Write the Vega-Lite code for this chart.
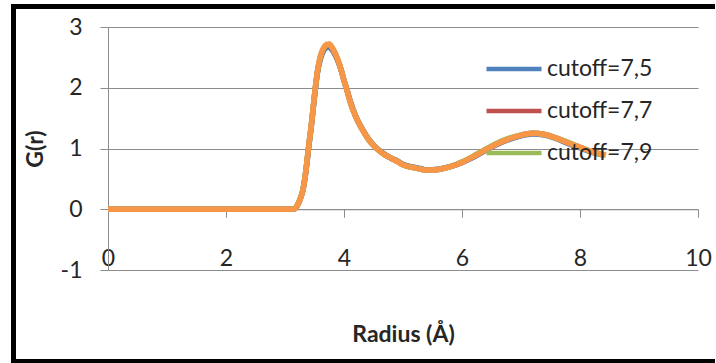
{
  "$schema": "https://vega.github.io/schema/vega-lite/v6.json",
  "width": 590,
  "height": 243,
  "autosize": "none",
  "padding": {"left": 108, "top": 27, "right": 18, "bottom": 93},
  "background": "white",
  "config": {"view": {"stroke": null}},
  "data": {"values": [
    {"r": 0, "g": 0, "s": "cutoff=7,5"}, {"r": 1, "g": 0, "s": "cutoff=7,5"}, {"r": 2, "g": 0, "s": "cutoff=7,5"}, {"r": 3, "g": 0, "s": "cutoff=7,5"}, {"r": 3.15, "g": 0, "s": "cutoff=7,5"},
    {"r": 3.2, "g": 0.05, "s": "cutoff=7,5"}, {"r": 3.25, "g": 0.15, "s": "cutoff=7,5"}, {"r": 3.3, "g": 0.3, "s": "cutoff=7,5"}, {"r": 3.35, "g": 0.59, "s": "cutoff=7,5"}, {"r": 3.4, "g": 1.0, "s": "cutoff=7,5"},
    {"r": 3.45, "g": 1.4, "s": "cutoff=7,5"}, {"r": 3.5, "g": 1.85, "s": "cutoff=7,5"}, {"r": 3.55, "g": 2.24, "s": "cutoff=7,5"}, {"r": 3.6, "g": 2.47, "s": "cutoff=7,5"}, {"r": 3.65, "g": 2.6, "s": "cutoff=7,5"},
    {"r": 3.7, "g": 2.66, "s": "cutoff=7,5"}, {"r": 3.75, "g": 2.67, "s": "cutoff=7,5"}, {"r": 3.8, "g": 2.62, "s": "cutoff=7,5"}, {"r": 3.85, "g": 2.54, "s": "cutoff=7,5"}, {"r": 3.9, "g": 2.43, "s": "cutoff=7,5"},
    {"r": 3.95, "g": 2.29, "s": "cutoff=7,5"}, {"r": 4.0, "g": 2.12, "s": "cutoff=7,5"}, {"r": 4.05, "g": 1.97, "s": "cutoff=7,5"}, {"r": 4.1, "g": 1.8, "s": "cutoff=7,5"}, {"r": 4.2, "g": 1.53, "s": "cutoff=7,5"},
    {"r": 4.3, "g": 1.34, "s": "cutoff=7,5"}, {"r": 4.4, "g": 1.18, "s": "cutoff=7,5"}, {"r": 4.5, "g": 1.06, "s": "cutoff=7,5"}, {"r": 4.6, "g": 0.97, "s": "cutoff=7,5"}, {"r": 4.7, "g": 0.9, "s": "cutoff=7,5"},
    {"r": 4.8, "g": 0.84, "s": "cutoff=7,5"}, {"r": 4.9, "g": 0.8, "s": "cutoff=7,5"}, {"r": 5.0, "g": 0.74, "s": "cutoff=7,5"}, {"r": 5.2, "g": 0.69, "s": "cutoff=7,5"}, {"r": 5.3, "g": 0.67, "s": "cutoff=7,5"},
    {"r": 5.4, "g": 0.65, "s": "cutoff=7,5"}, {"r": 5.5, "g": 0.65, "s": "cutoff=7,5"}, {"r": 5.6, "g": 0.66, "s": "cutoff=7,5"}, {"r": 5.8, "g": 0.7, "s": "cutoff=7,5"}, {"r": 6.0, "g": 0.77, "s": "cutoff=7,5"},
    {"r": 6.2, "g": 0.86, "s": "cutoff=7,5"}, {"r": 6.4, "g": 0.97, "s": "cutoff=7,5"}, {"r": 6.6, "g": 1.07, "s": "cutoff=7,5"}, {"r": 6.8, "g": 1.15, "s": "cutoff=7,5"}, {"r": 7.0, "g": 1.21, "s": "cutoff=7,5"},
    {"r": 7.2, "g": 1.24, "s": "cutoff=7,5"}, {"r": 7.4, "g": 1.22, "s": "cutoff=7,5"}, {"r": 7.6, "g": 1.16, "s": "cutoff=7,5"}, {"r": 7.8, "g": 1.08, "s": "cutoff=7,5"}, {"r": 8.0, "g": 1.01, "s": "cutoff=7,5"},
    {"r": 8.2, "g": 0.94, "s": "cutoff=7,5"}, {"r": 8.4, "g": 0.89, "s": "cutoff=7,5"},

    {"r": 0, "g": 0, "s": "cutoff=7,7"}, {"r": 1, "g": 0, "s": "cutoff=7,7"}, {"r": 2, "g": 0, "s": "cutoff=7,7"}, {"r": 3, "g": 0, "s": "cutoff=7,7"}, {"r": 3.15, "g": 0, "s": "cutoff=7,7"},
    {"r": 3.2, "g": 0.05, "s": "cutoff=7,7"}, {"r": 3.25, "g": 0.15, "s": "cutoff=7,7"}, {"r": 3.3, "g": 0.3, "s": "cutoff=7,7"}, {"r": 3.35, "g": 0.6, "s": "cutoff=7,7"}, {"r": 3.4, "g": 1.02, "s": "cutoff=7,7"},
    {"r": 3.45, "g": 1.41, "s": "cutoff=7,7"}, {"r": 3.5, "g": 1.87, "s": "cutoff=7,7"}, {"r": 3.55, "g": 2.26, "s": "cutoff=7,7"}, {"r": 3.6, "g": 2.5, "s": "cutoff=7,7"}, {"r": 3.65, "g": 2.63, "s": "cutoff=7,7"},
    {"r": 3.7, "g": 2.69, "s": "cutoff=7,7"}, {"r": 3.75, "g": 2.7, "s": "cutoff=7,7"}, {"r": 3.8, "g": 2.65, "s": "cutoff=7,7"}, {"r": 3.85, "g": 2.56, "s": "cutoff=7,7"}, {"r": 3.9, "g": 2.44, "s": "cutoff=7,7"},
    {"r": 3.95, "g": 2.3, "s": "cutoff=7,7"}, {"r": 4.0, "g": 2.12, "s": "cutoff=7,7"}, {"r": 4.05, "g": 1.96, "s": "cutoff=7,7"}, {"r": 4.1, "g": 1.79, "s": "cutoff=7,7"}, {"r": 4.2, "g": 1.52, "s": "cutoff=7,7"},
    {"r": 4.3, "g": 1.33, "s": "cutoff=7,7"}, {"r": 4.4, "g": 1.17, "s": "cutoff=7,7"}, {"r": 4.5, "g": 1.05, "s": "cutoff=7,7"}, {"r": 4.6, "g": 0.96, "s": "cutoff=7,7"}, {"r": 4.7, "g": 0.89, "s": "cutoff=7,7"},
    {"r": 4.8, "g": 0.84, "s": "cutoff=7,7"}, {"r": 4.9, "g": 0.79, "s": "cutoff=7,7"}, {"r": 5.0, "g": 0.73, "s": "cutoff=7,7"}, {"r": 5.2, "g": 0.68, "s": "cutoff=7,7"}, {"r": 5.3, "g": 0.66, "s": "cutoff=7,7"},
    {"r": 5.4, "g": 0.645, "s": "cutoff=7,7"}, {"r": 5.5, "g": 0.645, "s": "cutoff=7,7"}, {"r": 5.6, "g": 0.655, "s": "cutoff=7,7"}, {"r": 5.8, "g": 0.7, "s": "cutoff=7,7"}, {"r": 6.0, "g": 0.77, "s": "cutoff=7,7"},
    {"r": 6.2, "g": 0.87, "s": "cutoff=7,7"}, {"r": 6.4, "g": 0.98, "s": "cutoff=7,7"}, {"r": 6.6, "g": 1.08, "s": "cutoff=7,7"}, {"r": 6.8, "g": 1.16, "s": "cutoff=7,7"}, {"r": 7.0, "g": 1.22, "s": "cutoff=7,7"},
    {"r": 7.2, "g": 1.25, "s": "cutoff=7,7"}, {"r": 7.4, "g": 1.23, "s": "cutoff=7,7"}, {"r": 7.6, "g": 1.17, "s": "cutoff=7,7"}, {"r": 7.8, "g": 1.09, "s": "cutoff=7,7"}, {"r": 8.0, "g": 1.02, "s": "cutoff=7,7"},
    {"r": 8.2, "g": 0.95, "s": "cutoff=7,7"}, {"r": 8.42, "g": 0.89, "s": "cutoff=7,7"},

    {"r": 0, "g": 0, "s": "cutoff=7,9"}, {"r": 1, "g": 0, "s": "cutoff=7,9"}, {"r": 2, "g": 0, "s": "cutoff=7,9"}, {"r": 3, "g": 0, "s": "cutoff=7,9"}, {"r": 3.15, "g": 0, "s": "cutoff=7,9"},
    {"r": 3.2, "g": 0.05, "s": "cutoff=7,9"}, {"r": 3.25, "g": 0.16, "s": "cutoff=7,9"}, {"r": 3.3, "g": 0.31, "s": "cutoff=7,9"}, {"r": 3.35, "g": 0.61, "s": "cutoff=7,9"}, {"r": 3.4, "g": 1.03, "s": "cutoff=7,9"},
    {"r": 3.45, "g": 1.42, "s": "cutoff=7,9"}, {"r": 3.5, "g": 1.88, "s": "cutoff=7,9"}, {"r": 3.55, "g": 2.27, "s": "cutoff=7,9"}, {"r": 3.6, "g": 2.51, "s": "cutoff=7,9"}, {"r": 3.65, "g": 2.64, "s": "cutoff=7,9"},
    {"r": 3.7, "g": 2.7, "s": "cutoff=7,9"}, {"r": 3.75, "g": 2.71, "s": "cutoff=7,9"}, {"r": 3.8, "g": 2.66, "s": "cutoff=7,9"}, {"r": 3.85, "g": 2.57, "s": "cutoff=7,9"}, {"r": 3.9, "g": 2.45, "s": "cutoff=7,9"},
    {"r": 3.95, "g": 2.3, "s": "cutoff=7,9"}, {"r": 4.0, "g": 2.12, "s": "cutoff=7,9"}, {"r": 4.05, "g": 1.96, "s": "cutoff=7,9"}, {"r": 4.1, "g": 1.78, "s": "cutoff=7,9"}, {"r": 4.2, "g": 1.52, "s": "cutoff=7,9"},
    {"r": 4.3, "g": 1.33, "s": "cutoff=7,9"}, {"r": 4.4, "g": 1.17, "s": "cutoff=7,9"}, {"r": 4.5, "g": 1.05, "s": "cutoff=7,9"}, {"r": 4.6, "g": 0.96, "s": "cutoff=7,9"}, {"r": 4.7, "g": 0.89, "s": "cutoff=7,9"},
    {"r": 4.8, "g": 0.84, "s": "cutoff=7,9"}, {"r": 4.9, "g": 0.79, "s": "cutoff=7,9"}, {"r": 5.0, "g": 0.73, "s": "cutoff=7,9"}, {"r": 5.2, "g": 0.68, "s": "cutoff=7,9"}, {"r": 5.3, "g": 0.66, "s": "cutoff=7,9"},
    {"r": 5.4, "g": 0.64, "s": "cutoff=7,9"}, {"r": 5.5, "g": 0.645, "s": "cutoff=7,9"}, {"r": 5.6, "g": 0.655, "s": "cutoff=7,9"}, {"r": 5.8, "g": 0.7, "s": "cutoff=7,9"}, {"r": 6.0, "g": 0.78, "s": "cutoff=7,9"},
    {"r": 6.2, "g": 0.88, "s": "cutoff=7,9"}, {"r": 6.4, "g": 0.99, "s": "cutoff=7,9"}, {"r": 6.6, "g": 1.09, "s": "cutoff=7,9"}, {"r": 6.8, "g": 1.17, "s": "cutoff=7,9"}, {"r": 7.0, "g": 1.22, "s": "cutoff=7,9"},
    {"r": 7.2, "g": 1.25, "s": "cutoff=7,9"}, {"r": 7.4, "g": 1.23, "s": "cutoff=7,9"}, {"r": 7.6, "g": 1.17, "s": "cutoff=7,9"}, {"r": 7.8, "g": 1.1, "s": "cutoff=7,9"}, {"r": 8.0, "g": 1.02, "s": "cutoff=7,9"},
    {"r": 8.2, "g": 0.95, "s": "cutoff=7,9"}, {"r": 8.43, "g": 0.89, "s": "cutoff=7,9"},

    {"r": 0, "g": 0, "s": "cutoff=8,1"}, {"r": 1, "g": 0, "s": "cutoff=8,1"}, {"r": 2, "g": 0, "s": "cutoff=8,1"}, {"r": 3, "g": 0, "s": "cutoff=8,1"}, {"r": 3.15, "g": 0, "s": "cutoff=8,1"},
    {"r": 3.2, "g": 0.05, "s": "cutoff=8,1"}, {"r": 3.25, "g": 0.15, "s": "cutoff=8,1"}, {"r": 3.3, "g": 0.3, "s": "cutoff=8,1"}, {"r": 3.35, "g": 0.6, "s": "cutoff=8,1"}, {"r": 3.4, "g": 1.03, "s": "cutoff=8,1"},
    {"r": 3.45, "g": 1.42, "s": "cutoff=8,1"}, {"r": 3.5, "g": 1.88, "s": "cutoff=8,1"}, {"r": 3.55, "g": 2.28, "s": "cutoff=8,1"}, {"r": 3.6, "g": 2.52, "s": "cutoff=8,1"}, {"r": 3.65, "g": 2.65, "s": "cutoff=8,1"},
    {"r": 3.7, "g": 2.71, "s": "cutoff=8,1"}, {"r": 3.75, "g": 2.72, "s": "cutoff=8,1"}, {"r": 3.8, "g": 2.66, "s": "cutoff=8,1"}, {"r": 3.85, "g": 2.57, "s": "cutoff=8,1"}, {"r": 3.9, "g": 2.45, "s": "cutoff=8,1"},
    {"r": 3.95, "g": 2.3, "s": "cutoff=8,1"}, {"r": 4.0, "g": 2.12, "s": "cutoff=8,1"}, {"r": 4.05, "g": 1.96, "s": "cutoff=8,1"}, {"r": 4.1, "g": 1.78, "s": "cutoff=8,1"}, {"r": 4.2, "g": 1.52, "s": "cutoff=8,1"},
    {"r": 4.3, "g": 1.33, "s": "cutoff=8,1"}, {"r": 4.4, "g": 1.17, "s": "cutoff=8,1"}, {"r": 4.5, "g": 1.05, "s": "cutoff=8,1"}, {"r": 4.6, "g": 0.96, "s": "cutoff=8,1"}, {"r": 4.7, "g": 0.89, "s": "cutoff=8,1"},
    {"r": 4.8, "g": 0.84, "s": "cutoff=8,1"}, {"r": 4.9, "g": 0.79, "s": "cutoff=8,1"}, {"r": 5.0, "g": 0.73, "s": "cutoff=8,1"}, {"r": 5.2, "g": 0.68, "s": "cutoff=8,1"}, {"r": 5.3, "g": 0.66, "s": "cutoff=8,1"},
    {"r": 5.4, "g": 0.645, "s": "cutoff=8,1"}, {"r": 5.5, "g": 0.645, "s": "cutoff=8,1"}, {"r": 5.6, "g": 0.655, "s": "cutoff=8,1"}, {"r": 5.8, "g": 0.7, "s": "cutoff=8,1"}, {"r": 6.0, "g": 0.77, "s": "cutoff=8,1"},
    {"r": 6.2, "g": 0.87, "s": "cutoff=8,1"}, {"r": 6.4, "g": 0.98, "s": "cutoff=8,1"}, {"r": 6.6, "g": 1.08, "s": "cutoff=8,1"}, {"r": 6.8, "g": 1.16, "s": "cutoff=8,1"}, {"r": 7.0, "g": 1.22, "s": "cutoff=8,1"},
    {"r": 7.2, "g": 1.25, "s": "cutoff=8,1"}, {"r": 7.4, "g": 1.23, "s": "cutoff=8,1"}, {"r": 7.6, "g": 1.17, "s": "cutoff=8,1"}, {"r": 7.8, "g": 1.09, "s": "cutoff=8,1"}, {"r": 8.0, "g": 1.02, "s": "cutoff=8,1"},
    {"r": 8.2, "g": 0.95, "s": "cutoff=8,1"}, {"r": 8.44, "g": 0.89, "s": "cutoff=8,1"}
  ]},
  "layer": [
    {
      "mark": {"type": "rule", "stroke": "black", "strokeWidth": 4, "strokeCap": "square", "clip": false},
      "encoding": {
        "x": {"datum": -1.6, "type": "quantitative"},
        "x2": {"datum": 10.25},
        "y": {"datum": 3.333, "type": "quantitative"}
      }
    },
    {
      "mark": {"type": "rule", "stroke": "black", "strokeWidth": 4, "strokeCap": "square", "clip": false},
      "encoding": {
        "x": {"datum": -1.6, "type": "quantitative"},
        "x2": {"datum": 10.25},
        "y": {"datum": -2.5, "type": "quantitative"}
      }
    },
    {
      "mark": {"type": "rule", "stroke": "black", "strokeWidth": 4, "strokeCap": "square", "clip": false},
      "encoding": {
        "x": {"datum": -1.6, "type": "quantitative"},
        "y": {"datum": 3.333, "type": "quantitative"},
        "y2": {"datum": -2.5}
      }
    },
    {
      "mark": {"type": "line", "strokeWidth": 5.5, "interpolate": "monotone", "clip": false},
      "encoding": {
        "x": {
          "field": "r", "type": "quantitative",
          "scale": {"domain": [0, 10], "nice": false, "zero": false},
          "axis": {
            "orient": "bottom", "offset": -60.75, "values": [0, 2, 4, 6, 8, 10],
            "grid": false, "domainColor": "#8c8c8c", "tickColor": "#8c8c8c", "tickSize": 8,
            "labelPadding": 30, "labelFlush": false, "labelFont": "Lato", "labelFontSize": 23, "labelColor": "#262626",
            "labelExpr": "'' + datum.value",
            "title": "Radius (Å)", "titleFont": "Lato", "titleFontSize": 23, "titleFontWeight": "bold", "titleColor": "#262626",
            "titleX": 295, "titleY": 125, "titleBaseline": "middle"
          }
        },
        "y": {
          "field": "g", "type": "quantitative",
          "scale": {"domain": [-1, 3], "nice": false, "zero": false},
          "axis": {
            "values": [-1, 0, 1, 2, 3], "grid": true, "gridColor": "#8c8c8c",
            "domainColor": "#8c8c8c", "tickColor": "#8c8c8c", "tickSize": 8,
            "labelPadding": 18, "labelFont": "Lato", "labelFontSize": 23, "labelColor": "#262626",
            "labelExpr": "'' + datum.value",
            "title": "G(r)", "titleFont": "Lato", "titleFontSize": 23, "titleFontWeight": "bold", "titleColor": "#262626",
            "titleX": -73, "titleY": 121.5, "titleBaseline": "middle"
          }
        },
        "color": {
          "field": "s", "type": "nominal",
          "scale": {"domain": ["cutoff=7,5", "cutoff=7,7", "cutoff=7,9", "cutoff=8,1"], "range": ["#4F81BD", "#C0504D", "#9BBB59", "#F79646"]},
          "legend": {
            "values": ["cutoff=7,5", "cutoff=7,7", "cutoff=7,9"],
            "title": null, "orient": "none", "legendX": 376, "legendY": 12,
            "symbolType": "stroke", "symbolSize": 3025, "symbolStrokeWidth": 4.5,
            "labelFont": "Lato", "labelFontSize": 23, "labelColor": "#262626", "labelOffset": 3,
            "rowPadding": -16
          }
        }
      }
    }
  ]
}
